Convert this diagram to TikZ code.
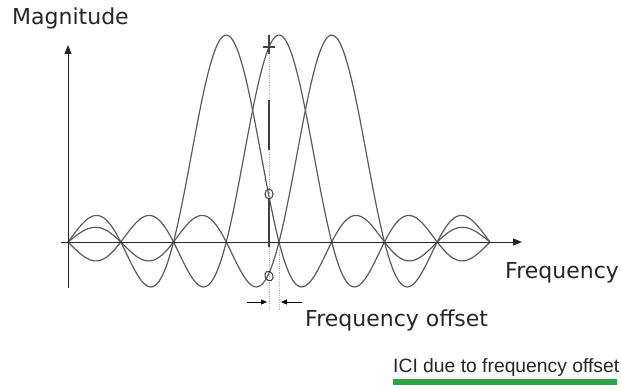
\documentclass[tikz,border=0pt]{standalone}
\usepackage{fontspec}
\setmainfont{DejaVu Sans}
\newfontfamily\icifont{Liberation Sans}
\usepackage{tikz}
\usetikzlibrary{arrows.meta,positioning,calc,shapes.geometric}
\usepackage{xcolor}
\definecolor{curvegray}{RGB}{90,90,90}
\definecolor{guidegray}{RGB}{185,185,185}
\definecolor{icigreen}{RGB}{40,167,69}

\begin{document}
\begin{tikzpicture}[
    x=1pt, y=1pt,
    axisline/.style={-{Triangle[length=9pt,width=7pt]}, line width=0.9pt, black!85},
    sincline/.style={curvegray, line width=1.2pt},
    guide/.style={guidegray, densely dotted, line width=0.8pt},
    marked/.style={black!75, line width=1.1pt},
    icimark/.style={ellipse, draw=black!75, line width=1pt, inner sep=0pt, minimum width=8pt, minimum height=10pt},
    offarrow/.style={-{Triangle[length=6pt,width=5pt]}, line width=0.8pt, black},
    lbl/.style={inner sep=0pt, font=\fontsize{22}{26}\selectfont, text=black!85},
    icilbl/.style={inner sep=0pt, font=\icifont\fontsize{19.3}{23}\selectfont, text=black!85}
]
\useasboundingbox (-68,-143) rectangle (553,242);

% Subcarriers
\foreach \c in {3,4,5}
  \draw[sincline] plot[domain=0:8, samples=200, smooth]
    ({52.75*\x}, {207*sin(180*(\x-\c))/(pi*(\x-\c))});

% Axes
\coordinate (xl) at (-7,0);
\coordinate (xr) at (454,0);
\coordinate (yb) at (0,-46);
\coordinate (yt) at (0,197);
\draw[axisline] (xl) -- (xr);
\draw[axisline] (yb) -- (yt);

% Sampling point with offset
\coordinate (ot) at (201,207);
\coordinate (ob) at (201,-68);
\coordinate (ct) at (211,-8);
\coordinate (cb) at (211,-68);
\draw[guide] (ot) -- (ob);
\draw[guide] (ct) -- (cb);
\draw[marked] (ot) -- ($(ot)+(0,-18)$);
\draw[marked] ($(ot)+(0,-65)$) -- ($(ot)+(0,-115)$);

\coordinate (peak) at (201,195);
\draw[marked, line width=1.5pt] ($(peak)+(-6,0)$) -- ($(peak)+(6,0)$);
\draw[marked, line width=1.5pt] ($(peak)+(0,-7)$) -- ($(peak)+(0,7)$);

\node[icimark] (ici1) at (201,48) {};
\node[icimark, rotate=25] (ici2) at (201,-34) {};
\coordinate (axpt) at (201,-5);
\draw[marked] (ici1.south) -- (axpt);

% Offset arrows
\coordinate (la) at (179,-60);
\coordinate (lb) at (199,-60);
\coordinate (ra) at (234,-60);
\coordinate (rb) at (213,-60);
\draw[offarrow] (la) -- (lb);
\draw[offarrow] (ra) -- (rb);

% Labels
\node[lbl, anchor=base west] (ylab) at (-56,217) {Magnitude};
\node[lbl, anchor=base west] (xlab) at (437,-37) {Frequency};
\node[lbl, anchor=base west] (offlab) at (237,-85) {Frequency offset};
\node[icilbl, anchor=base west] (icilab) at (325,-131) {ICI due to frequency offset};
\fill[icigreen] ($(icilab.base west)+(0,-6)$) rectangle (549,-143);

\end{tikzpicture}
\end{document}
